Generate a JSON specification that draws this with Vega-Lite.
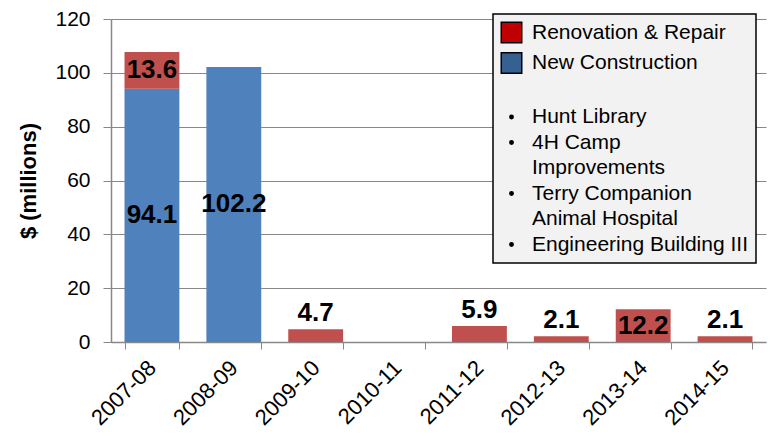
{
  "$schema": "https://vega.github.io/schema/vega-lite/v6.json",
  "width": 655,
  "height": 323,
  "autosize": "none",
  "padding": {"left": 111, "top": 19, "right": 13, "bottom": 94},
  "background": "white",
  "config": {
    "font": "Liberation Sans",
    "view": {"stroke": null},
    "axis": {"labelFont": "Liberation Sans", "titleFont": "Liberation Sans", "labelColor": "#000", "titleColor": "#000"}
  },
  "data": {
    "values": [
      {"year": "2007-08", "type": "New Construction", "value": 94.1},
      {"year": "2007-08", "type": "Renovation & Repair", "value": 13.6},
      {"year": "2008-09", "type": "New Construction", "value": 102.2},
      {"year": "2009-10", "type": "Renovation & Repair", "value": 4.7},
      {"year": "2011-12", "type": "Renovation & Repair", "value": 5.9},
      {"year": "2012-13", "type": "Renovation & Repair", "value": 2.1},
      {"year": "2013-14", "type": "Renovation & Repair", "value": 12.2},
      {"year": "2014-15", "type": "Renovation & Repair", "value": 2.1}
    ]
  },
  "encoding": {
    "x": {
      "field": "year", "type": "nominal",
      "scale": {"domain": ["2007-08","2008-09","2009-10","2010-11","2011-12","2012-13","2013-14","2014-15"], "paddingInner": 0.33, "paddingOuter": 0.165},
      "axis": {
        "title": null, "labelAngle": -45, "labelFontSize": 22, "labelAlign": "right", "labelBaseline": "middle",
        "labelPadding": 15, "tickBand": "extent", "tickColor": "#888", "tickSize": 7, "domainColor": "#888", "domainWidth": 1.5, "grid": false
      }
    }
  },
  "layer": [
    {
      "mark": {"type": "bar"},
      "encoding": {
        "y": {
          "field": "value", "type": "quantitative", "stack": "zero",
          "scale": {"domain": [0, 120]},
          "axis": {
            "title": "$ (millions)", "titleFontSize": 22, "titleFontWeight": "bold", "titlePadding": 14,
            "labelFontSize": 21, "values": [0,20,40,60,80,100,120], "tickColor": "#888", "tickSize": 8,
            "domainColor": "#888", "domainWidth": 1.5, "gridColor": "#888", "gridWidth": 1, "labelPadding": 13
          }
        },
        "order": {"field": "type", "sort": "ascending"},
        "fill": {
          "field": "type", "type": "nominal",
          "scale": {"domain": ["Renovation & Repair","New Construction"], "range": ["#c0504d","#4f81bd"]},
          "legend": null
        }
      }
    },
    {
      "transform": [{"filter": "false"}],
      "mark": {"type": "bar"},
      "encoding": {
        "y": {"field": "value", "type": "quantitative"},
        "color": {
          "field": "type", "type": "nominal",
          "scale": {
            "domain": ["Renovation & Repair","New Construction"," ","Hunt Library","4H Camp","Improvements","Terry Companion","Animal Hospital","Engineering Building III"],
            "range": ["#c00000","#366092","#000","#000","#000","#000","#000","#000","#000"]
          },
          "legend": {
            "title": null,
            "orient": "none",
            "legendX": 382,
            "legendY": -5,
            "fillColor": "#f2f2f2",
            "strokeColor": "#000",
            "padding": 8,
            "labelFontSize": 21,
            "labelColor": "#000",
            "labelFont": "Liberation Sans",
            "labelOffset": 10,
            "symbolType": "square",
            "symbolSize": 20,
            "rowPadding": 3.5,
            "labelLimit": 400,
            "encode": {
              "legend": {"update": {"strokeWidth": {"value": 1.5}}},
              "symbols": {
                "update": {
                  "size": {"signal": "datum.value == 'Renovation & Repair' || datum.value == 'New Construction' ? 420 : (datum.value == 'Hunt Library' || datum.value == '4H Camp' || datum.value == 'Terry Companion' || datum.value == 'Engineering Building III' ? 24 : 0)"},
                  "shape": {"signal": "datum.value == 'Renovation & Repair' || datum.value == 'New Construction' ? 'square' : 'circle'"},
                  "stroke": {"value": "#000"},
                  "strokeWidth": {"signal": "datum.value == 'Renovation & Repair' || datum.value == 'New Construction' ? 1.5 : 0"}
                }
              }
            }
          }
        }
      }
    },
    {
      "transform": [
        {"stack": "value", "groupby": ["year"], "sort": [{"field": "type", "order": "ascending"}], "as": ["v0", "v1"]},
        {"filter": "datum.value > 10"},
        {"calculate": "(datum.v0 + datum.v1) / 2", "as": "mid"}
      ],
      "mark": {"type": "text", "fontSize": 26, "fontWeight": "bold", "color": "#000", "baseline": "middle"},
      "encoding": {
        "y": {"field": "mid", "type": "quantitative"},
        "text": {"field": "value", "type": "quantitative", "format": ".1f"}
      }
    },
    {
      "transform": [
        {"filter": "datum.value <= 10"}
      ],
      "mark": {"type": "text", "fontSize": 26, "fontWeight": "bold", "color": "#000", "baseline": "bottom", "dy": -3},
      "encoding": {
        "y": {"field": "value", "type": "quantitative"},
        "text": {"field": "value", "type": "quantitative", "format": ".1f"}
      }
    }
  ]
}
